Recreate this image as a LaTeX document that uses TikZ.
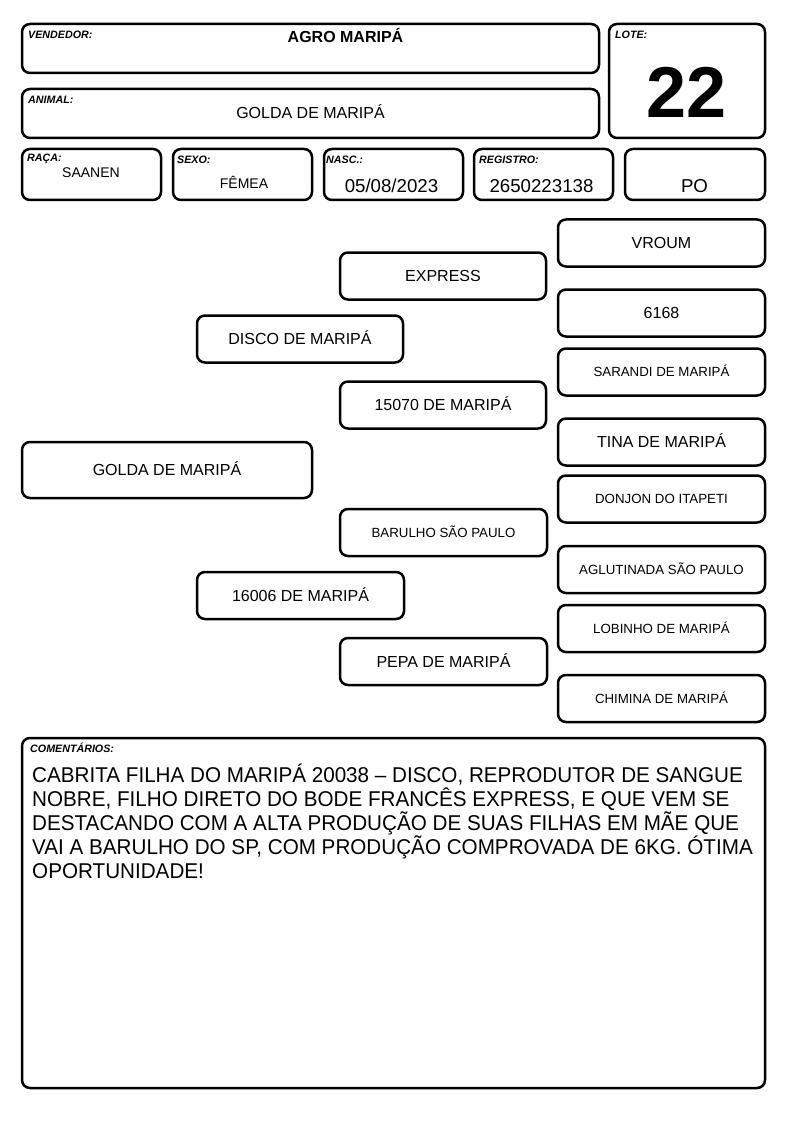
\documentclass[tikz,border=0pt]{standalone}
\usepackage{fontspec}
\setmainfont{Liberation Sans}
\newfontfamily\cmtfont[FakeStretch=0.965]{Liberation Sans}
\newcommand{\fsz}[1]{\fontsize{#1}{#1}\selectfont}
\tikzset{
  x=1pt, y=-1pt,
  box/.style={draw=black, line width=2.5pt, rounded corners=8pt, inner sep=0pt, fill=white},
  lbl/.style={inner sep=0pt, font=\fsz{10.7}\bfseries\itshape},
  val/.style={inner sep=0pt, font=\fsz{16}},
  valbig/.style={inner sep=0pt, font=\fsz{18.67}},
  valmid/.style={inner sep=0pt, font=\fsz{14}},
  ped/.style={box, minimum width=207pt, minimum height=47pt, font=\fsz{16}, text height=11.5pt, text depth=0pt},
  peds/.style={ped, font=\fsz{13.3}, text height=9.5pt},
}
\begin{document}
\begin{tikzpicture}
\useasboundingbox[fill=white] (0,0) rectangle (794,1123);
% header boxes
\node[box, minimum width=577pt, minimum height=49pt] (vend) at (310.5,48.5) {};
\node[box, minimum width=577pt, minimum height=49pt] (animal) at (310.5,113.5) {};
\node[box, minimum width=156pt, minimum height=114pt] (lote) at (687,81) {};
\node[box, minimum width=139pt, minimum height=51pt] (raca) at (91.5,174.5) {};
\node[box, minimum width=139pt, minimum height=51pt] (sexo) at (242.5,174.5) {};
\node[box, minimum width=139pt, minimum height=51pt] (nasc) at (393.5,174.5) {};
\node[box, minimum width=139pt, minimum height=51pt] (reg) at (543.5,174.5) {};
\node[box, minimum width=140pt, minimum height=51pt] (po) at (695,174.5) {};
% header texts
\node[lbl, anchor=base west] (vendl) at (28,39) {VENDEDOR:};
\node[val, anchor=base, font=\fsz{16}\bfseries] (vendv) at (345.5,42.5) {AGRO MARIPÁ};
\node[lbl, anchor=base west] (animl) at (28,104) {ANIMAL:};
\node[val, anchor=base] (animv) at (310.5,119) {GOLDA DE MARIPÁ};
\node[lbl, anchor=base west] (lotel) at (615,39) {LOTE:};
\node[inner sep=0pt, anchor=base, font=\fsz{72}\bfseries] (lotev) at (687,118) {22};
\node[lbl, anchor=base west] (racal) at (27,162) {RAÇA:};
\node[valmid, anchor=base] (racav) at (91,178) {SAANEN};
\node[lbl, anchor=base west] (sexol) at (177,164) {SEXO:};
\node[valmid, anchor=base] (sexov) at (244,189) {FÊMEA};
\node[lbl, anchor=base west] (nascl) at (326,164) {NASC.:};
\node[valbig, anchor=base] (nascv) at (391.5,193) {05/08/2023};
\node[lbl, anchor=base west] (regl) at (479,164) {REGISTRO:};
\node[valbig, anchor=base] (regv) at (541.5,193) {2650223138};
\node[valbig, anchor=base] (pov) at (694.5,193) {PO};
% pedigree
\node[ped] (vroum) at (661.5,243) {VROUM};
\node[ped, minimum width=206pt] (express) at (443,276) {EXPRESS};
\node[ped] (n6168) at (661.5,313) {6168};
\node[ped, minimum width=206pt] (disco) at (300,339) {DISCO DE MARIPÁ};
\node[peds] (sarandi) at (661.5,372) {SARANDI DE MARIPÁ};
\node[ped, minimum width=206pt] (n15070) at (443,405) {15070 DE MARIPÁ};
\node[ped] (tina) at (661.5,442) {TINA DE MARIPÁ};
\node[ped, minimum width=290pt, minimum height=56pt] (golda) at (167,470) {GOLDA DE MARIPÁ};
\node[peds] (donjon) at (661.5,499) {DONJON DO ITAPETI};
\node[peds] (barulho) at (443.5,532.5) {BARULHO SÃO PAULO};
\node[peds] (aglut) at (661.5,569.5) {AGLUTINADA SÃO PAULO};
\node[ped] (n16006) at (300.5,595.5) {16006 DE MARIPÁ};
\node[peds] (lobinho) at (661.5,628.5) {LOBINHO DE MARIPÁ};
\node[ped] (pepa) at (443.5,661.5) {PEPA DE MARIPÁ};
\node[peds] (chimina) at (661.5,698.5) {CHIMINA DE MARIPÁ};
% comments
\node[box, minimum width=743pt, minimum height=350pt] (coment) at (393.5,913) {};
\node[lbl, anchor=base west] (comentl) at (30,752) {COMENTÁRIOS:};
\node[inner sep=0pt, anchor=base west, align=left, font={\cmtfont\fontsize{21.4}{24.2}\selectfont}] (comentv) at (32,878.8)
{CABRITA FILHA DO MARIPÁ 20038 – DISCO, REPRODUTOR DE SANGUE\\
NOBRE, FILHO DIRETO DO BODE FRANCÊS EXPRESS, E QUE VEM SE\\
DESTACANDO COM A ALTA PRODUÇÃO DE SUAS FILHAS EM MÃE QUE\\
VAI A BARULHO DO SP, COM PRODUÇÃO COMPROVADA DE 6KG. ÓTIMA\\
OPORTUNIDADE!};
\end{tikzpicture}
\end{document}
